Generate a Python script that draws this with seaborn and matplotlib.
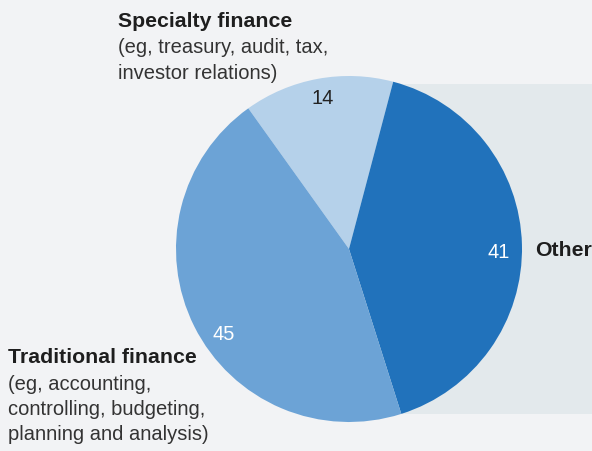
import matplotlib
matplotlib.use("Agg")
import matplotlib.pyplot as plt
import seaborn as sns
from matplotlib.patches import Rectangle

# Data
segments = ["Specialty finance", "Other", "Traditional finance"]
shares = [14, 41, 45]
colors = ["#b5d1ea", "#2172bb", "#6ca3d6"]
value_colors = ["#222222", "white", "white"]
specialty_note = ["(eg, treasury, audit, tax,", "investor relations)"]
traditional_note = ["(eg, accounting,", "controlling, budgeting,", "planning and analysis)"]

sns.set_theme(style="white")
plt.rcParams['font.family'] = ['Liberation Sans', 'DejaVu Sans']

bg = "#f2f3f5"
H = 451
fig = plt.figure(figsize=(5.92, 4.51), dpi=100, facecolor=bg)
ax = fig.add_axes([0, 0, 1, 1])
ax.set_facecolor(bg)

# grey panel behind the right side
ax.add_patch(Rectangle((349, H - 414), 592 - 349, 414 - 84,
                       facecolor="#e3e9ec", edgecolor="none", zorder=0))

wedges, texts = ax.pie(
    shares, colors=colors, startangle=125.6, counterclock=False,
    center=(349, H - 249), radius=173,
    wedgeprops=dict(linewidth=0), frame=False)

# value labels inside the slices
value_pos = [(323, 99), (499, 252), (224, 334)]
for v, c, (x, y) in zip(shares, value_colors, value_pos):
    ax.text(x, H - y, str(v), fontsize=14.5, color=c, ha="center", va="center")

ax.set_xlim(0, 592)
ax.set_ylim(0, H)
ax.set_aspect("equal")
ax.axis("off")

dark = "#1e1e1e"
note = "#333333"
fs = 14.5
fs_bold = 15.3

ax.text(118, H - 27, segments[0], fontsize=fs_bold, fontweight="bold",
        color=dark, va="baseline", ha="left")
for i, line in enumerate(specialty_note):
    ax.text(118, H - 53 - 26 * i, line, fontsize=fs, color=note,
            va="baseline", ha="left")

ax.text(535, H - 250, segments[1], fontsize=fs_bold, fontweight="bold",
        color=dark, va="center", ha="left")

ax.text(8, H - 363, segments[2], fontsize=fs_bold, fontweight="bold",
        color=dark, va="baseline", ha="left")
for i, line in enumerate(traditional_note):
    ax.text(8, H - 389.5 - 25.3 * i, line, fontsize=fs, color=note,
            va="baseline", ha="left")

fig.savefig("out.png", dpi=100, facecolor=bg)
